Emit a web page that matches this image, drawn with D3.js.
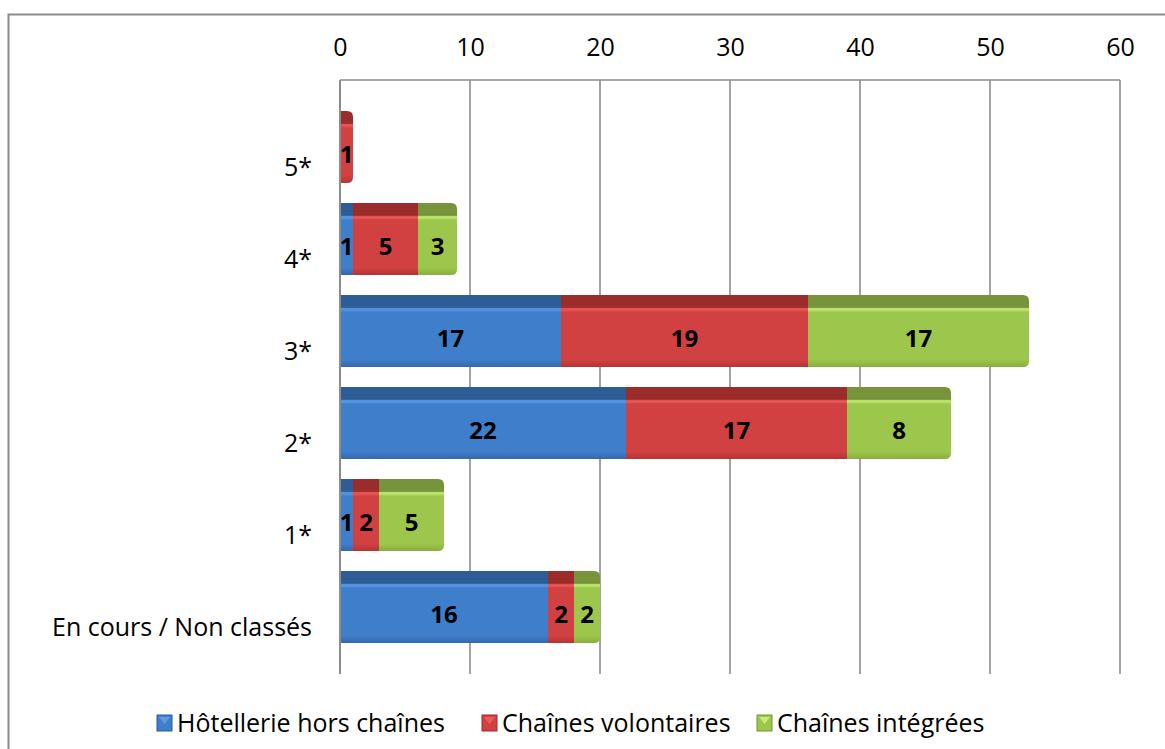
<!DOCTYPE html>
<html>
<head>
<meta charset="utf-8">
<script src="https://cdn.jsdelivr.net/npm/d3@7"></script>
<style>
  body { margin: 0; background: #fff; }
  text { font-family: "Open Sans", "Noto Sans", sans-serif; }
</style>
</head>
<body>
<div id="chart"></div>
<script>
// Data
const categories = ["5*", "4*", "3*", "2*", "1*", "En cours / Non classés"];
const seriesNames = ["Hôtellerie hors chaînes", "Chaînes volontaires", "Chaînes intégrées"];
const horsChaines = [0, 1, 17, 22, 1, 16];
const volontaires = [1, 5, 19, 17, 2, 2];
const integrees = [0, 3, 17, 8, 5, 2];
const ticks = [0, 10, 20, 30, 40, 50, 60];

// colours: [top strip, highlight, body, body bottom]
const palette = [
  ["#2c5d96", "#5b9be6", "#3f7ecb", "#3669ac"],
  ["#9c2b2b", "#f05a5a", "#d24141", "#b33535"],
  ["#77943a", "#c8ec78", "#9dc64c", "#88ad3f"]
];

const W = 1165, H = 749;
const svg = d3.select("#chart").append("svg")
  .attr("width", W)
  .attr("height", H);

// gradients for the Excel-like 3D look
const defs = svg.append("defs");
palette.forEach((c, i) => {
  const g = defs.append("linearGradient")
    .attr("id", "grad" + i)
    .attr("x1", 0).attr("y1", 0).attr("x2", 0).attr("y2", 1);
  g.append("stop").attr("offset", "0%").attr("stop-color", c[0]);
  g.append("stop").attr("offset", "17%").attr("stop-color", c[0]);
  g.append("stop").attr("offset", "19%").attr("stop-color", c[1]);
  g.append("stop").attr("offset", "24%").attr("stop-color", c[2]);
  g.append("stop").attr("offset", "90%").attr("stop-color", c[2]);
  g.append("stop").attr("offset", "100%").attr("stop-color", c[3]);
});

// outer chart border
svg.append("rect")
  .attr("x", 8.5).attr("y", 14.5)
  .attr("width", 1170).attr("height", 760)
  .attr("fill", "none")
  .attr("stroke", "#8a8a8a")
  .attr("stroke-width", 2);

const plotTop = 80, plotBottom = 674;
const x = d3.scaleLinear().domain([0, 60]).range([340, 1120]);
const y = d3.scaleBand().domain(categories).range([101, 653]);

// gridlines
svg.append("g")
  .selectAll("line")
  .data(ticks)
  .enter().append("line")
  .attr("x1", d => x(d)).attr("x2", d => x(d))
  .attr("y1", plotTop).attr("y2", plotBottom)
  .attr("stroke", "#8c8c8c")
  .attr("stroke-width", 1.6);

// plot area top border
svg.append("line")
  .attr("x1", x(0)).attr("x2", x(60))
  .attr("y1", plotTop).attr("y2", plotTop)
  .attr("stroke", "#8c8c8c")
  .attr("stroke-width", 1.6);

// top axis tick labels
const xAxis = d3.axisTop(x).tickValues(ticks).tickSize(0).tickPadding(0);
const gx = svg.append("g")
  .attr("transform", "translate(0,56)")
  .call(xAxis);
gx.select(".domain").remove();
gx.selectAll("text")
  .style("font-size", "25px")
  .style("font-family", "'Open Sans', sans-serif")
  .attr("fill", "#000");

// category labels
svg.append("g")
  .selectAll("text")
  .data(categories)
  .enter().append("text")
  .attr("x", 312)
  .attr("y", d => y(d) + y.bandwidth() / 2 + 20)
  .attr("dy", "0.35em")
  .attr("text-anchor", "end")
  .style("font-size", "25px")
  .text(d => d);

// stack the series
const table = categories.map((c, i) => ({
  cat: c, s0: horsChaines[i], s1: volontaires[i], s2: integrees[i]
}));
const stack = d3.stack().keys(["s0", "s1", "s2"])(table);

const barH = y.bandwidth() * 0.78;
const barOff = (y.bandwidth() - barH) / 2;
const totals = table.map(d => d.s0 + d.s1 + d.s2);

function segPath(d, i) {
  const x0 = x(d[0]), x1 = x(d[1]);
  const yt = y(d.data.cat) + barOff, yb = yt + barH;
  const last = d[1] === totals[i];
  const r = last ? Math.min(6, x1 - x0) : 0;
  return `M${x0},${yt}H${x1 - r}` +
    (r ? `Q${x1},${yt} ${x1},${yt + r}V${yb - r}Q${x1},${yb} ${x1 - r},${yb}` : `V${yb}`) +
    `H${x0}Z`;
}

const layers = svg.append("g")
  .selectAll("g")
  .data(stack)
  .enter().append("g")
  .attr("fill", (d, si) => `url(#grad${si})`);

layers.selectAll("path")
  .data(d => d)
  .enter().append("path")
  .filter(d => d[1] > d[0])
  .attr("d", d => segPath(d, categories.indexOf(d.data.cat)));

// value labels
layers.selectAll("text.val")
  .data(d => d)
  .enter().append("text")
  .filter(d => d[1] > d[0])
  .attr("class", "val")
  .attr("x", d => (x(d[0]) + x(d[1])) / 2)
  .attr("y", d => y(d.data.cat) + barOff + barH * 0.6)
  .attr("dy", "0.35em")
  .attr("text-anchor", "middle")
  .attr("fill", "#000")
  .style("font-size", "24px")
  .style("font-weight", "bold")
  .text(d => d[1] - d[0]);

// left axis line
svg.append("line")
  .attr("x1", x(0)).attr("x2", x(0))
  .attr("y1", plotTop).attr("y2", plotBottom)
  .attr("stroke", "#8c8c8c")
  .attr("stroke-width", 2);

// legend
const legendX = [157, 482, 757];
const legend = svg.append("g")
  .selectAll("g")
  .data(seriesNames)
  .enter().append("g")
  .attr("transform", (d, i) => `translate(${legendX[i]},715)`);
legend.append("rect")
  .attr("width", 15).attr("height", 16)
  .attr("fill", (d, i) => palette[i][2])
  .attr("stroke", (d, i) => palette[i][0])
  .attr("stroke-width", 1);
legend.append("path")
  .attr("d", "M2,2H13L7.5,9Z")
  .attr("fill", (d, i) => palette[i][1]);
legend.append("text")
  .attr("x", 20)
  .attr("y", 8)
  .attr("dy", "0.35em")
  .style("font-size", "25px")
  .text(d => d);
</script>
</body>
</html>
